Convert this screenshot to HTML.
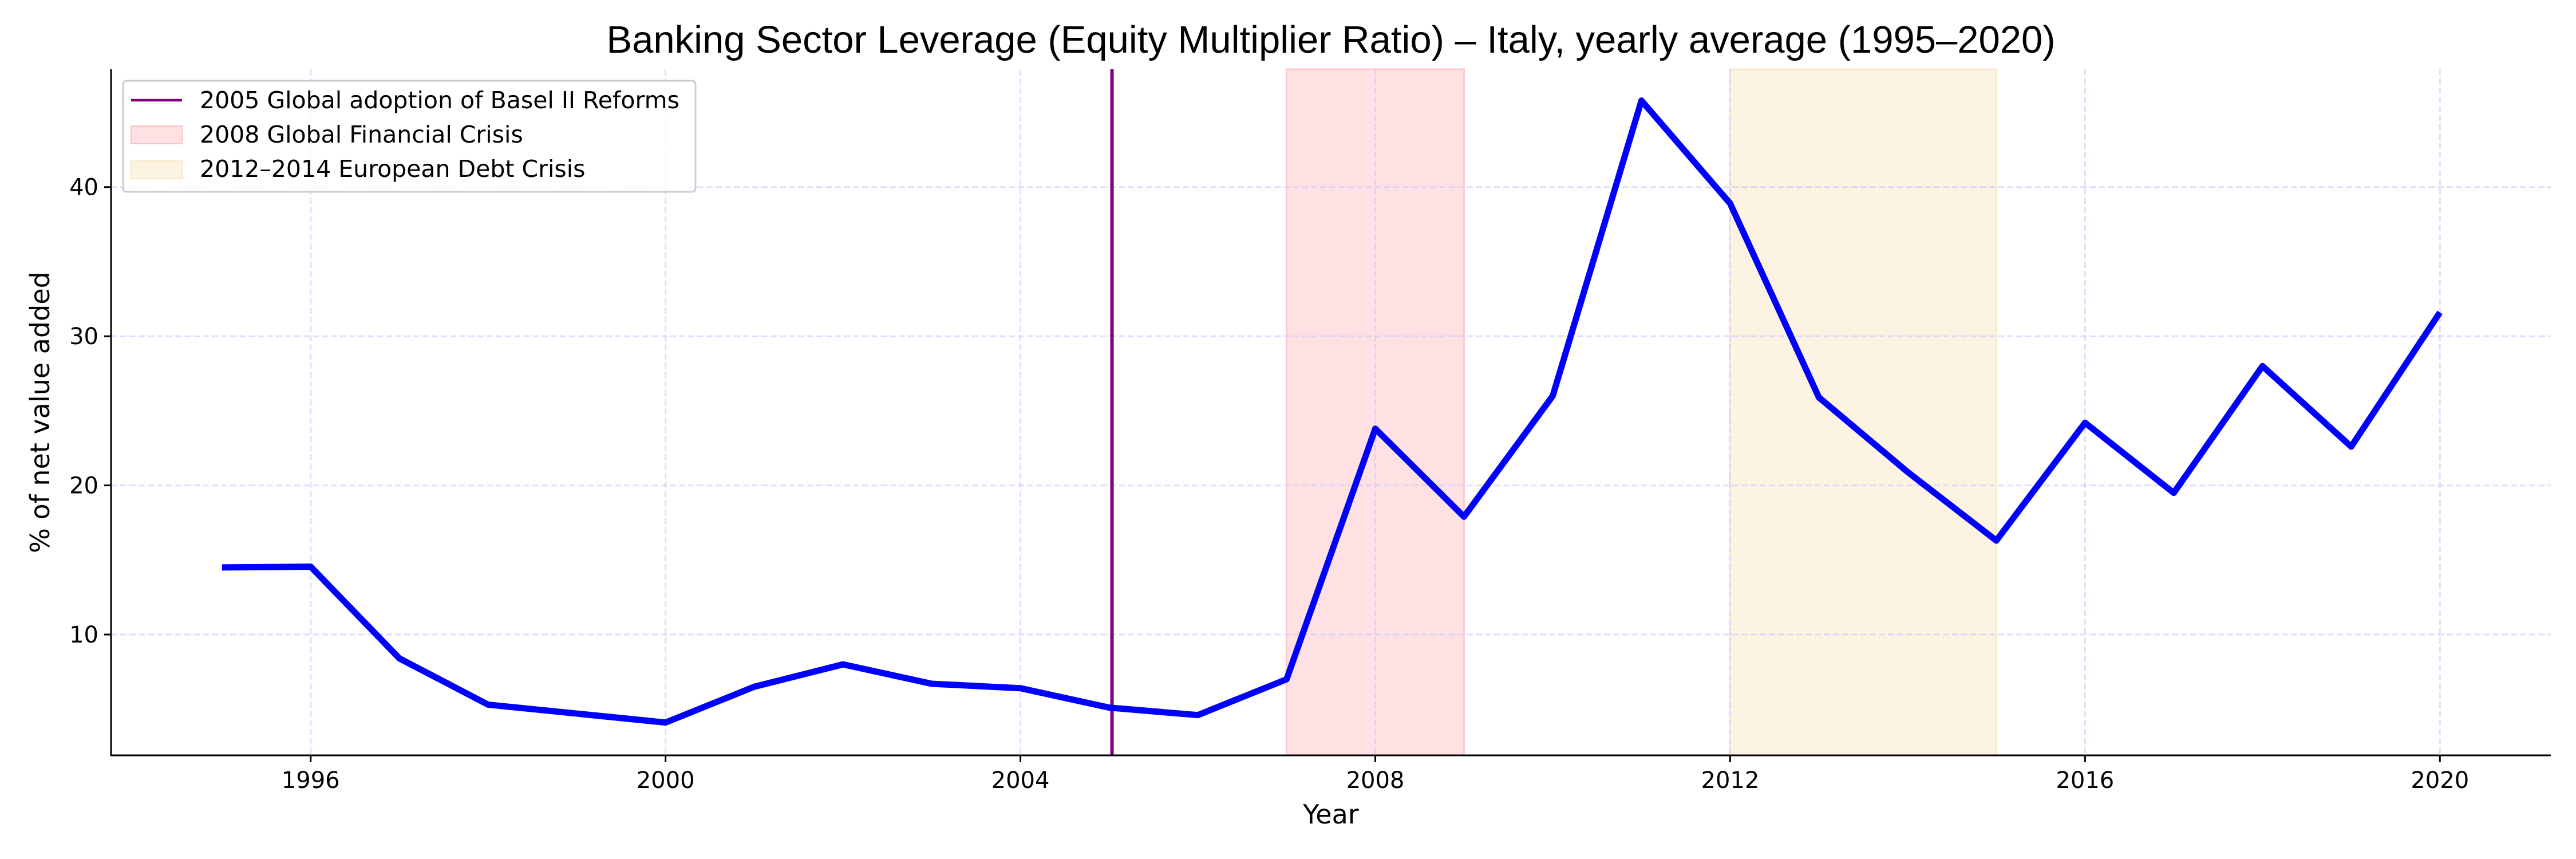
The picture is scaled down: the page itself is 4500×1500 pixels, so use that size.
<!DOCTYPE html>
<html><head><meta charset="utf-8"><style>
html,body{margin:0;padding:0;background:#fff;}
svg{display:block;font-family:"DejaVu Sans","Liberation Sans",sans-serif;}
</style></head><body>
<svg id="chart" width="4500" height="1500" viewBox="0 0 4500 1500">
<text x="2325" y="92" text-anchor="middle" font-family="Liberation Sans, sans-serif" font-size="67">Banking Sector Leverage (Equity Multiplier Ratio) – Italy, yearly average (1995–2020)</text>
<g id="spans"></g><g id="grid"></g><g id="series"></g><g id="axes"></g>
<text x="2325" y="1438" text-anchor="middle" font-size="46">Year</text>
<text transform="translate(86,720) rotate(-90)" text-anchor="middle" font-size="46">% of net value added</text>
<g>
<rect x="215" y="141" width="1000" height="194" rx="6" fill="#fff" fill-opacity="0.8" stroke="#ccc" stroke-width="3"/>
<line x1="229" y1="175" x2="318" y2="175" stroke="#800080" stroke-width="4.5"/>
<text x="349" y="189" font-size="41">2005 Global adoption of Basel II Reforms</text>
<rect x="229" y="220" width="89" height="31" fill="#ffe1e4" stroke="#ffc0c8" stroke-width="2"/>
<text x="349" y="249" font-size="41">2008 Global Financial Crisis</text>
<rect x="229" y="281" width="89" height="31" fill="#fdf3e3" stroke="#fde7c4" stroke-width="2"/>
<text x="349" y="309" font-size="41">2012–2014 European Debt Crisis</text>
</g>
</svg>
<script>
const years=[1995,1996,1997,1998,1999,2000,2001,2002,2003,2004,2005,2006,2007,2008,2009,2010,2011,2012,2013,2014,2015,2016,2017,2018,2019,2020];
const values=[14.5,14.55,8.4,5.3,4.7,4.1,6.5,8.0,6.7,6.4,5.1,4.6,7.0,23.8,17.9,26.0,45.8,38.9,25.9,20.9,16.3,24.2,19.5,28.0,22.6,31.6];
const xTicks=[1996,2000,2004,2008,2012,2016,2020];
const yTicks=[10,20,30,40];
const spanGFC=[2007,2009];
const spanEDC=[2012,2015];
const baselYear=2005;
const NS="http://www.w3.org/2000/svg";
const L=194,R=4456,T=121,B=1319;
const xmin=1993.75,xmax=2021.25,ymin=1.9,ymax=47.9;
const X=v=>L+(v-xmin)/(xmax-xmin)*(R-L);
const Y=v=>B-(v-ymin)/(ymax-ymin)*(B-T);
function mk(tag,attrs,parent){const e=document.createElementNS(NS,tag);for(const k in attrs)e.setAttribute(k,attrs[k]);document.getElementById(parent).appendChild(e);return e;}
let e;
e=mk('rect',{x:X(spanGFC[0]),y:T,width:X(spanGFC[1])-X(spanGFC[0]),height:B-T,fill:'#ffe1e4',stroke:'#ffc8cf','stroke-width':3},'spans');


e=mk('rect',{x:X(spanEDC[0]),y:T,width:X(spanEDC[1])-X(spanEDC[0]),height:B-T,fill:'#fdf3e3',stroke:'#fde8c8','stroke-width':3},'spans');


for(const t of xTicks){
 e=mk('line',{x1:X(t),x2:X(t),y1:T,y2:B,stroke:'#c8c8ff','stroke-opacity':0.6,'stroke-width':3,'stroke-dasharray':'11 5'},'grid');
 
 
 mk('line',{x1:X(t),x2:X(t),y1:B,y2:B+12,stroke:'#000','stroke-width':3},'axes');
 e=mk('text',{x:X(t),y:B+57,'text-anchor':'middle','font-size':40},'axes');e.textContent=t;
 
 
}
for(const t of yTicks){
 e=mk('line',{x1:L,x2:R,y1:Y(t),y2:Y(t),stroke:'#c8c8ff','stroke-opacity':0.6,'stroke-width':3,'stroke-dasharray':'11 5'},'grid');
 
 
 mk('line',{x1:L-12,x2:L,y1:Y(t),y2:Y(t),stroke:'#000','stroke-width':3},'axes');
 e=mk('text',{x:L-22,y:Y(t)+14,'text-anchor':'end','font-size':40},'axes');e.textContent=t;
 
 
}
e=mk('line',{x1:X(baselYear)+5,x2:X(baselYear)+5,y1:T,y2:B,stroke:'#800080','stroke-width':6},'series');


e=mk('polyline',{points:years.map((y,i)=>X(y)+','+Y(values[i])).join(' '),fill:'none',stroke:'#0000ff','stroke-width':11,'stroke-linejoin':'round'},'series');


e=mk('line',{x1:L,x2:L,y1:T,y2:B+1.5,stroke:'#000','stroke-width':3},'axes');


e=mk('line',{x1:L-1.5,x2:R,y1:B,y2:B,stroke:'#000','stroke-width':3},'axes');


</script>
</body></html>
